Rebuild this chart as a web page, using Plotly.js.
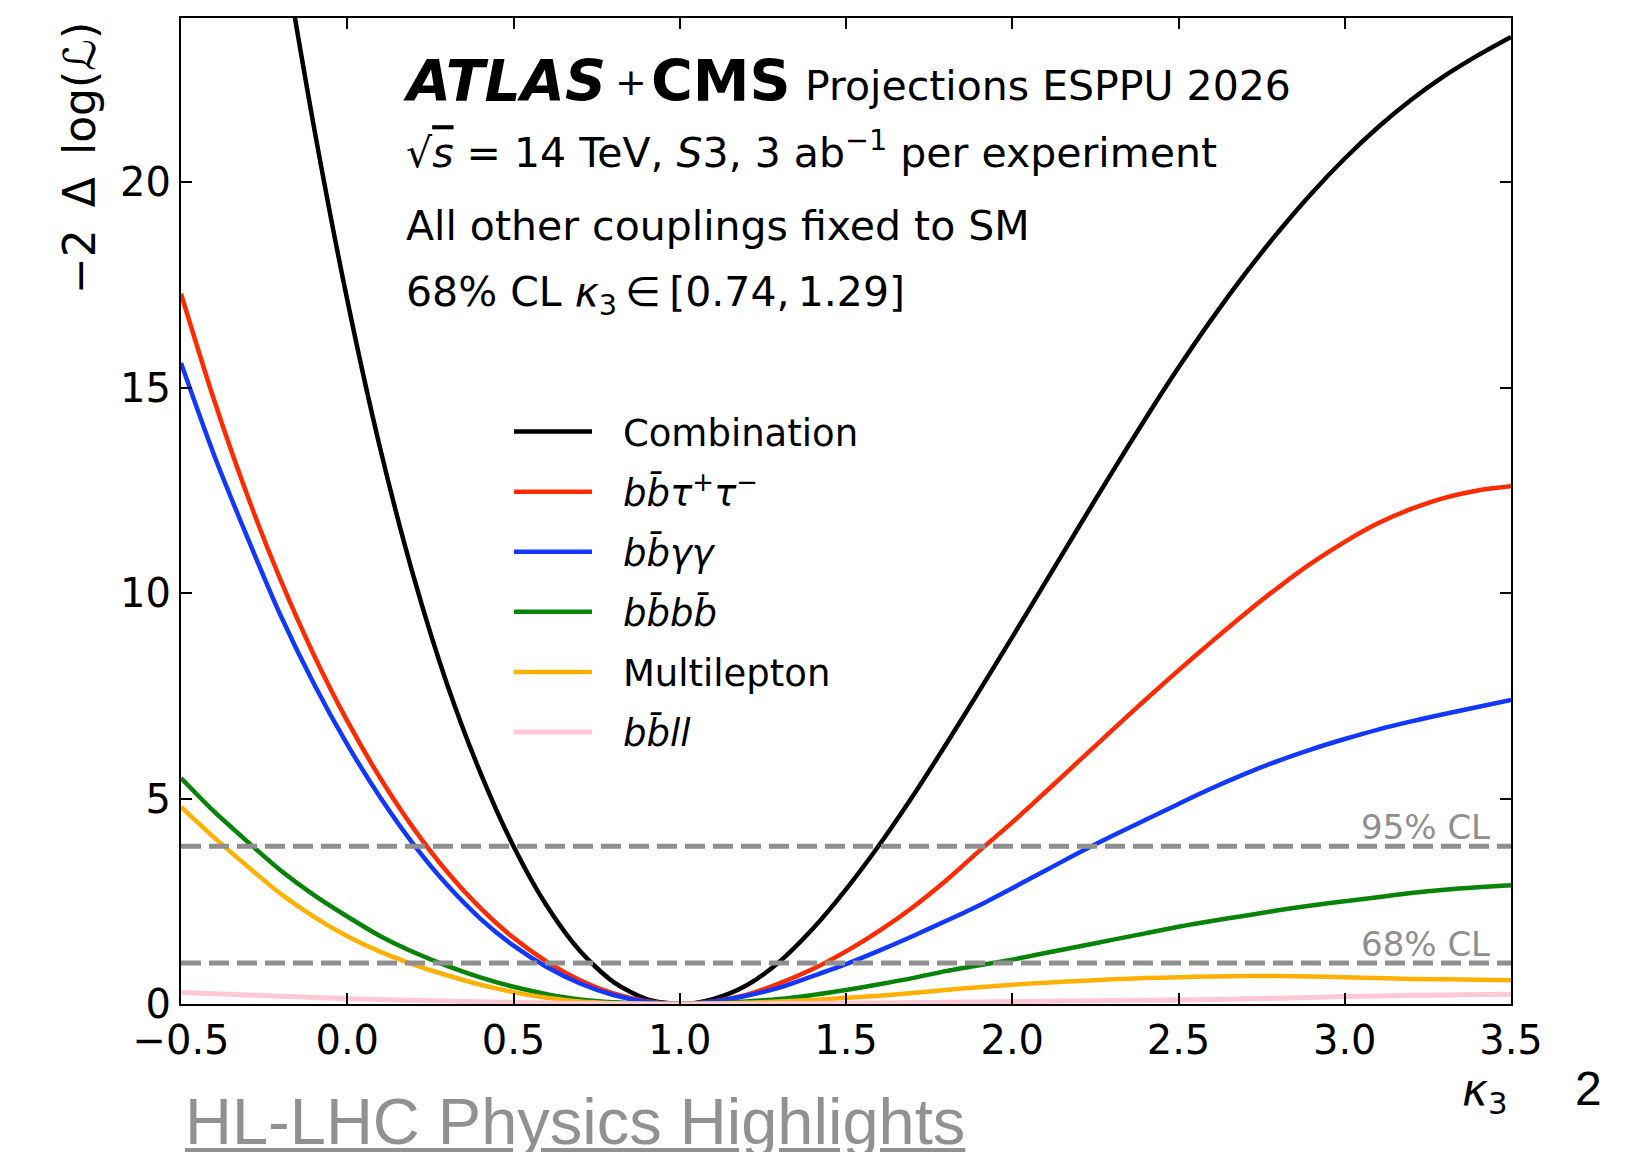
<!DOCTYPE html>
<html><head><meta charset="utf-8">
<script src="https://cdn.plot.ly/plotly-3.0.1.min.js"></script>
<style>html,body{margin:0;padding:0;background:#fff;}#chart{width:1628px;height:1152px;}</style>
</head><body><div id="chart"></div>
<script>
// ---- data ----
const kappa3 = [-0.5,-0.4,-0.3,-0.2,-0.1,0.0,0.1,0.2,0.3,0.4,0.5,0.6,0.7,0.8,0.9,1.0,1.1,1.2,1.3,1.4,1.5,1.6,1.7,1.8,1.9,2.0,2.1,2.2,2.3,2.4,2.5,2.6,2.7,2.8,2.9,3.0,3.1,3.2,3.3,3.4,3.5];
const combination = [null,null,null,26.04,21.34,17.14,13.49,10.39,7.79,5.64,3.84,2.39,1.29,0.54,0.12,0,0.12,0.45,1.03,1.83,2.79,3.87,5.05,6.31,7.61,8.93,10.27,11.61,12.94,14.24,15.49,16.67,17.77,18.79,19.73,20.58,21.34,22.01,22.59,23.09,23.54];
const bbtautau = [17.29,14.69,12.37,10.31,8.49,6.89,5.49,4.27,3.22,2.34,1.61,1.03,0.58,0.26,0.07,0,0.06,0.22,0.5,0.85,1.28,1.78,2.35,3.0,3.72,4.42,5.16,5.91,6.66,7.4,8.12,8.82,9.5,10.14,10.73,11.25,11.7,12.05,12.32,12.5,12.6];
const bbgamgam = [15.6,13.35,11.35,9.45,7.79,6.32,5.02,3.88,2.9,2.08,1.42,0.9,0.5,0.22,0.055,0,0.06,0.2,0.4,0.68,0.97,1.3,1.65,2.02,2.4,2.82,3.25,3.68,4.09,4.48,4.87,5.25,5.6,5.92,6.2,6.45,6.68,6.88,7.06,7.23,7.4];
const bbbb = [5.5,4.68,3.95,3.25,2.65,2.13,1.65,1.26,0.93,0.65,0.42,0.24,0.11,0.04,0.01,0,0.02,0.06,0.12,0.22,0.34,0.48,0.63,0.8,0.94,1.08,1.24,1.4,1.56,1.72,1.88,2.02,2.15,2.28,2.4,2.5,2.6,2.7,2.78,2.84,2.89];
const multilepton = [4.8,4.05,3.35,2.68,2.12,1.65,1.27,0.96,0.7,0.47,0.29,0.15,0.06,0.02,0.005,0,0.01,0.03,0.06,0.1,0.15,0.2,0.27,0.34,0.41,0.47,0.52,0.56,0.6,0.63,0.65,0.67,0.68,0.68,0.67,0.65,0.63,0.61,0.6,0.59,0.58];
const bbll = [0.28,0.25,0.22,0.19,0.16,0.13,0.11,0.09,0.07,0.055,0.04,0.025,0.015,0.007,0.002,0,0.002,0.005,0.01,0.015,0.02,0.027,0.035,0.042,0.05,0.06,0.068,0.076,0.085,0.093,0.1,0.11,0.125,0.14,0.16,0.18,0.195,0.21,0.22,0.23,0.24];

const seriesNames = ['Combination',
  '<i>b</i><i>b\u0304</i><i>τ</i><sup>+</sup><i>τ</i><sup>−</sup>',
  '<i>b</i><i>b\u0304</i><i>γγ</i>',
  '<i>b</i><i>b\u0304</i><i>b</i><i>b\u0304</i>',
  'Multilepton',
  '<i>b</i><i>b\u0304</i><i>ll</i>'];
const seriesValues = [combination, bbtautau, bbgamgam, bbbb, multilepton, bbll];
const seriesColors = ['#000000', '#ff2a00', '#1238ff', '#078407', '#ffb000', '#ffc8d2'];

const clLevels = [1.0, 3.84];
const clLabels = ['68% CL', '95% CL'];
const xRange = [-0.5, 3.5];
const yRange = [0, 24];
const xTicks = [-0.5, 0.0, 0.5, 1.0, 1.5, 2.0, 2.5, 3.0, 3.5];
const yTicks = [0, 5, 10, 15, 20];

// ---- layout helpers (pixel -> paper) ----
const W = 1628, H = 1152;
const M = {l: 181, r: 117, t: 18, b: 148};
const PW = W - M.l - M.r, PH = H - M.t - M.b;
const px2x = x => (x - M.l) / PW;
const py2y = y => (H - M.b - y) / PH;
const FONT = 'DejaVu Sans, Verdana, sans-serif';
const GAP = '\u2002\u2009'; // spacing between legend line and label

const traces = seriesValues.map((vals, i) => ({
  type: 'scatter', mode: 'lines', x: kappa3, y: vals, name: GAP + seriesNames[i],
  legendgroup: 'g' + i,
  line: {color: seriesColors[i], width: i === 5 ? 5 : 4.5, shape: 'spline', smoothing: 0.8},
  hoverinfo: 'skip'
}));
clLevels.forEach(lv => traces.push({
  type: 'scatter', mode: 'lines', x: xRange, y: [lv, lv], showlegend: false,
  line: {color: '#8f8f8f', width: 5, dash: '20px,8px'}, hoverinfo: 'skip'
}));

// annotation positioned by baseline (DejaVu ascent .928 / descent .236)
function txt(text, xpx, basePx, size, extra) {
  return Object.assign({
    text: text, xref: 'paper', yref: 'paper', x: px2x(xpx), y: py2y(basePx + 0.236 * size),
    xanchor: 'left', yanchor: 'bottom', showarrow: false, borderpad: 0,
    font: {family: FONT, size: size, color: '#000'}
  }, extra || {});
}
function txtTop(text, xpx, basePx, size, extra) {
  return Object.assign(txt(text, xpx, basePx, size, extra), {y: py2y(basePx - 0.928 * size), yanchor: 'top'});
}

const annotations = [
  txt('<b><i>ATLAS</i></b>', 402, 101.7, 57),
  txt('+', 614, 96, 38),
  txt('<b>CMS</b>', 650, 101.7, 57),
  txt('Projections ESPPU 2026', 804, 101.7, 41),
  txt('√<span style="text-decoration:overline"><i>s</i></span> = 14 TeV, <i>S</i>3, 3 ab<sup>−1</sup> per experiment', 405, 168.3, 41),
  txt('All other couplings fixed to SM', 405, 241.7, 41),
  txtTop('68% CL <i>κ</i><sub>3</sub>\u2009∈\u2009[0.74,\u20091.29]', 405, 305, 41),
  // axis titles
  {text: '−2\u2002Δ\u2002log(ℒ)', xref: 'paper', yref: 'paper', x: px2x(79), y: py2y(21), xanchor: 'center', yanchor: 'top',
   textangle: -90, showarrow: false, borderpad: 0, font: {family: FONT, size: 44, color: '#000'}},
  {text: '<i>κ</i><sub>3</sub>', xref: 'paper', yref: 'paper', x: px2x(1509), y: py2y(1104 - 0.928 * 44), xanchor: 'right', yanchor: 'top',
   showarrow: false, borderpad: 0, font: {family: FONT, size: 44, color: '#000'}},
  // slide decorations
  {text: '2', xref: 'paper', yref: 'paper', x: px2x(1588), y: py2y(1104 - 0.905 * 48), xanchor: 'center', yanchor: 'top',
   showarrow: false, borderpad: 0, font: {family: 'Liberation Sans, Arial, sans-serif', size: 48, color: '#000'}},
  {text: '<span style="text-decoration:underline">HL-LHC Physics Highlights</span>', xref: 'paper', yref: 'paper',
   x: px2x(184), y: py2y(1143 - 0.905 * 65), xanchor: 'left', yanchor: 'top',
   showarrow: false, borderpad: 0, font: {family: 'Liberation Sans, Arial, sans-serif', size: 65, color: '#919191'}}
];
clLevels.forEach((lv, i) => annotations.push({
  text: clLabels[i], xref: 'x', yref: 'y', x: xRange[1], y: lv, xshift: -20, yshift: -2,
  xanchor: 'right', yanchor: 'bottom', showarrow: false, borderpad: 0,
  font: {family: FONT, size: 34, color: '#8f8f8f'}
}));

const axisCommon = {
  showgrid: false, zeroline: false, showline: true, linecolor: '#000', linewidth: 2,
  mirror: 'ticks', ticks: 'inside', ticklen: 11, tickwidth: 2, tickcolor: '#000',
  tickfont: {family: FONT, size: 40, color: '#000'}, automargin: false
};

const layout = {
  width: W, height: H, margin: M, paper_bgcolor: '#fff', plot_bgcolor: '#fff',
  font: {family: FONT},
  xaxis: Object.assign({}, axisCommon, {range: xRange, tickvals: xTicks, tickformat: '.1f'}),
  yaxis: Object.assign({}, axisCommon, {range: yRange, tickvals: yTicks}),
  showlegend: true,
  legend: {x: px2x(509), y: py2y(401), xanchor: 'left', yanchor: 'top', bgcolor: 'rgba(0,0,0,0)',
           borderwidth: 0, itemwidth: 78, tracegroupgap: 9, traceorder: 'grouped',
           font: {family: FONT, size: 37, color: '#000'}},
  annotations: annotations
};

Plotly.newPlot('chart', traces, layout, {staticPlot: true, displayModeBar: false});
</script>
</body></html>
